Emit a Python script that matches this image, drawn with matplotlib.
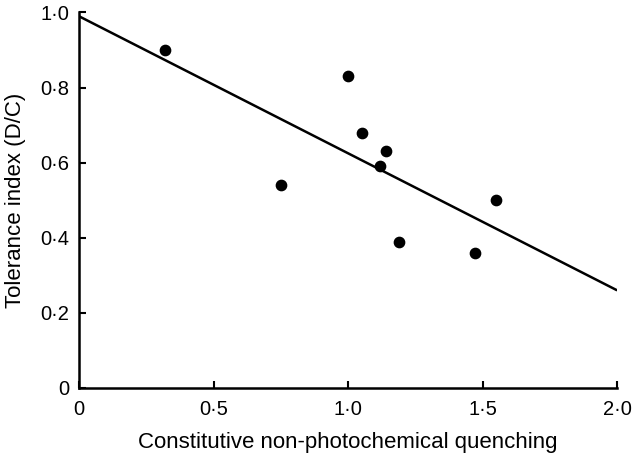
import matplotlib
matplotlib.use('Agg')
import matplotlib.pyplot as plt
import numpy as np

# Constitutive NPQ vs tolerance index
npq = [0.32, 0.75, 1.00, 1.05, 1.12, 1.14, 1.19, 1.47, 1.55]
tolerance = [0.90, 0.54, 0.83, 0.68, 0.59, 0.63, 0.39, 0.36, 0.50]

# regression line end points
fit_x = [0.0, 2.0]
fit_y = [0.99, 0.26]

x_ticks = [0, 0.5, 1.0, 1.5, 2.0]
x_labels = ['0', '0·5', '1·0', '1·5', '2·0']
y_ticks = [0, 0.2, 0.4, 0.6, 0.8, 1.0]
y_labels = ['0', '0·2', '0·4', '0·6', '0·8', '1·0']

plt.rcParams['font.family'] = ['Liberation Sans', 'DejaVu Sans']

fig = plt.figure(figsize=(6.33, 4.54), dpi=100)
ax = fig.add_axes([0.1248, 0.1454, 0.8502, 0.8271])

ax.plot(fit_x, fit_y, color='black', linewidth=1.8, solid_capstyle='butt')
ax.scatter(npq, tolerance, s=55, color='black', zorder=3)

ax.set_xlim(0, 2.0)
ax.set_ylim(0, 1.0)
ax.set_xticks(x_ticks)
ax.set_xticklabels(x_labels)
ax.set_yticks(y_ticks)
ax.set_yticklabels(y_labels)

for side in ['top', 'right']:
    ax.spines[side].set_visible(False)
for side in ['left', 'bottom']:
    ax.spines[side].set_linewidth(1.8)

ax.tick_params(direction='in', length=5, width=1.5, labelsize=14.5)
ax.tick_params(axis='x', pad=9)
ax.tick_params(axis='y', pad=7)
ax.set_xlabel('Constitutive non-photochemical quenching', fontsize=16, labelpad=9)
ax.set_ylabel('Tolerance index (D/C)', fontsize=16)
ax.yaxis.set_label_coords(-0.098, 0.5)

fig.savefig('out.png', dpi=100)
